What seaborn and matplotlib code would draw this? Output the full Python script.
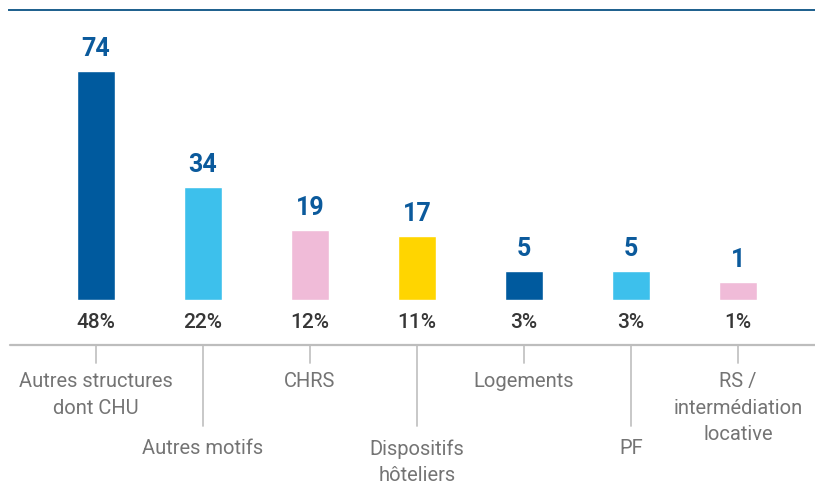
import numpy as np
import pandas as pd
import matplotlib
matplotlib.use("Agg")
import matplotlib.pyplot as plt
import matplotlib.transforms as mtransforms
import seaborn as sns

# données
categories = ["Autres structures\ndont CHU", "Autres motifs", "CHRS",
              "Dispositifs\nhôteliers", "Logements", "PF",
              "RS /\nintermédiation\nlocative"]
counts = [74, 34, 19, 17, 5, 5, 1]
shares = ["48%", "22%", "12%", "11%", "3%", "3%", "1%"]
bar_colors = ["#005a9e", "#3dc0ec", "#f0bbd8", "#ffd500",
              "#005a9e", "#3dc0ec", "#f0bbd8"]

W, H = 815, 486
BASE = -5.2  # les barres partent sous zéro (hauteur minimale visible)

sns.set_theme(style="white")
plt.rcParams["font.family"] = ["Roboto", "DejaVu Sans"]

fig = plt.figure(figsize=(W / 100, H / 100), dpi=100)
# zone des barres : de la ligne du haut (y=10) à la base des barres (y=300)
ax = fig.add_axes([9 / W, (H - 300) / H, (W - 9) / W, 290 / H])

df = pd.DataFrame({"cat": categories, "n": counts})
sns.barplot(data=df, x="cat", y="n", hue="cat", palette=bar_colors,
            legend=False, width=0.355, saturation=1, ax=ax)

# prolonger chaque barre jusqu'à la base
for p in ax.patches:
    h = p.get_height()
    p.set_y(BASE)
    p.set_height(h - BASE)

px_per_cat = 107
x_left = (9 - 96) / px_per_cat
x_right = (W - 96) / px_per_cat
ax.set_xlim(x_left, x_right)
scale = 229 / (74 - BASE)
ax.set_ylim(BASE, 74 + 61 / scale)

for s in ["left", "right", "bottom"]:
    ax.spines[s].set_visible(False)
ax.spines["top"].set_color("#1b5e8c")
ax.spines["top"].set_linewidth(1.4)
ax.set_xticks([])
ax.set_yticks([])
ax.set_xlabel("")
ax.set_ylabel("")

# valeurs au-dessus des barres
for i, v in enumerate(counts):
    ax.annotate(str(v), (i, v), xytext=(0, 7), textcoords="offset points",
                ha="center", va="bottom", fontsize=18, fontweight="bold",
                color="#0b5a9c")

# pourcentages, axe et étiquettes (coordonnées figure en pixels)
trans = mtransforms.blended_transform_factory(ax.transData, fig.transFigure)

def fy(py):
    return (H - py) / H

for i, s in enumerate(shares):
    ax.text(i, fy(323), s, transform=trans, ha="center", va="center",
            fontsize=15, fontweight="medium", color="#363636", clip_on=False)

fig.add_artist(plt.Line2D([10 / W, 1], [fy(345), fy(345)],
                          color="#bdbdbd", lw=1.6, transform=fig.transFigure))

for i, lab in enumerate(categories):
    long_tick = i % 2 == 1
    y_end = 426 if long_tick else 363
    ax.plot([i, i], [fy(345), fy(y_end)], transform=trans, color="#c4c4c4",
            lw=1.3, clip_on=False)
    y_lab = 439 if long_tick else 372
    ax.text(i, fy(y_lab), lab, transform=trans, ha="center", va="top",
            fontsize=14.5, color="#747474", linespacing=1.5, clip_on=False)

fig.savefig("out.png", dpi=100)
